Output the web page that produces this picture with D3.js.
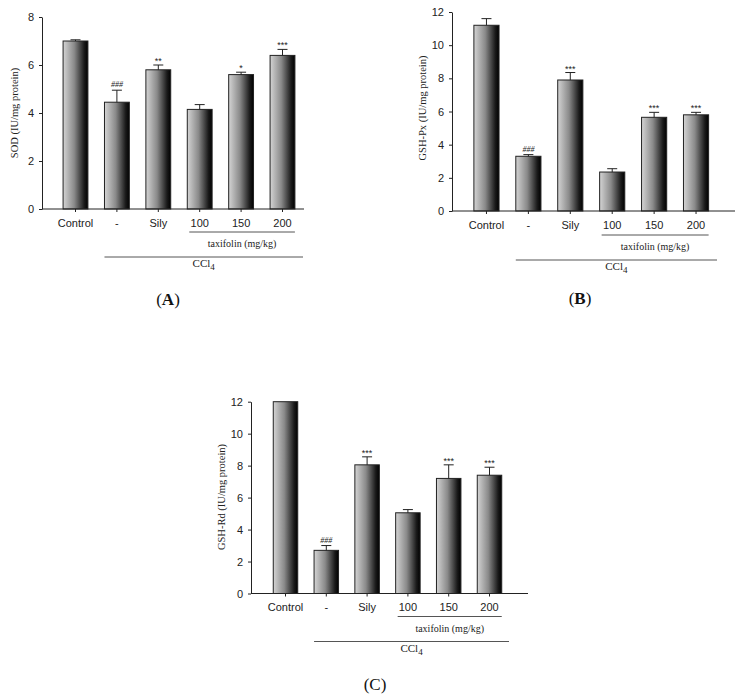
<!DOCTYPE html>
<html>
<head>
<meta charset="utf-8">
<script src="https://cdnjs.cloudflare.com/ajax/libs/d3/7.8.5/d3.min.js"></script>
<style>
  body { margin: 0; background: #fff; }
  svg { display: block; }
</style>
</head>
<body>
<svg id="chart" width="741" height="700"></svg>
<script>
// categories shared by all three panels
const groups = ["Control", "-", "Sily", "100", "150", "200"];

// Panel A: SOD
const sodMean = [7.0, 4.45, 5.8, 4.15, 5.6, 6.4];
const sodErr  = [0.05, 0.5, 0.2, 0.2, 0.1, 0.25];
const sodSig  = ["", "###", "**", "", "*", "***"];

// Panel B: GSH-Px
const pxMean = [11.2, 3.3, 7.9, 2.35, 5.65, 5.8];
const pxErr  = [0.4, 0.1, 0.45, 0.2, 0.3, 0.15];
const pxSig  = ["", "###", "***", "", "***", "***"];

// Panel C: GSH-Rd
const rdMean = [12.0, 2.7, 8.05, 5.05, 7.2, 7.4];
const rdErr  = [0.0, 0.3, 0.5, 0.2, 0.85, 0.5];
const rdSig  = ["", "###", "***", "", "***", "***"];

const tickA = [0, 2, 4, 6, 8];
const tickBC = [0, 2, 4, 6, 8, 10, 12];

const svg = d3.select("#chart");

// horizontal gradient used for every bar
const defs = svg.append("defs");
const grad = defs.append("linearGradient")
    .attr("id", "barGrad")
    .attr("x1", "0%").attr("x2", "100%")
    .attr("y1", "0%").attr("y2", "0%");
grad.append("stop").attr("offset", "0%").attr("stop-color", "#d4d4d4");
grad.append("stop").attr("offset", "45%").attr("stop-color", "#8a8a8a");
grad.append("stop").attr("offset", "85%").attr("stop-color", "#1a1a1a");
grad.append("stop").attr("offset", "100%").attr("stop-color", "#000");

function drawPanel(p) {
    const g = svg.append("g");

    const x = d3.scaleBand()
        .domain(groups)
        .range([p.bandLeft, p.bandRight])
        .paddingInner(0.4)
        .paddingOuter(0.2);

    const y = d3.scaleLinear()
        .domain([0, p.yMax])
        .range([p.bottom, p.top]);

    // bars
    g.selectAll(".bar")
        .data(p.mean)
        .enter()
        .append("rect")
        .attr("class", "bar")
        .attr("x", (d, i) => x(groups[i]))
        .attr("y", d => y(d))
        .attr("width", x.bandwidth())
        .attr("height", d => y(0) - y(d))
        .attr("fill", "url(#barGrad)")
        .attr("stroke", "#222")
        .attr("stroke-width", 1);

    // error bars (upper only)
    const cx = i => x(groups[i]) + x.bandwidth() / 2;
    p.mean.forEach((m, i) => {
        const e = p.err[i];
        if (e <= 0) return;
        g.append("line")
            .attr("x1", cx(i)).attr("x2", cx(i))
            .attr("y1", y(m)).attr("y2", y(m + e))
            .attr("stroke", "#222").attr("stroke-width", 1);
        g.append("line")
            .attr("x1", cx(i) - 5).attr("x2", cx(i) + 5)
            .attr("y1", y(m + e)).attr("y2", y(m + e))
            .attr("stroke", "#222").attr("stroke-width", 1);
    });

    // significance marks
    g.selectAll(".sig")
        .data(p.sig)
        .enter()
        .append("text")
        .attr("class", "sig")
        .attr("x", (d, i) => cx(i))
        .attr("y", (d, i) => d.startsWith("#") ? y(p.mean[i] + p.err[i]) - 3 : y(p.mean[i] + p.err[i]) - 1)
        .attr("text-anchor", "middle")
        .attr("font-family", d => d.startsWith("#") ? "Liberation Serif, serif" : "Liberation Sans, Arial, sans-serif")
        .attr("font-style", d => d.startsWith("#") ? "italic" : "normal")
        .attr("font-size", d => d.startsWith("#") ? 8 : 9)
        .attr("fill", "#222")
        .text(d => d);

    // y axis
    const yAxis = g.append("g")
        .attr("transform", `translate(${p.axisX},0)`)
        .call(d3.axisLeft(y).tickValues(p.ticks).tickSize(3).tickPadding(5).tickSizeOuter(0));
    yAxis.select(".domain").attr("stroke", "#222");
    yAxis.selectAll("line").attr("stroke", "#222");
    yAxis.selectAll("text")
        .attr("font-family", "Liberation Sans, Arial, sans-serif")
        .attr("font-size", 11)
        .attr("fill", "#222");

    // x axis
    const xAxis = g.append("g")
        .attr("transform", `translate(0,${p.bottom})`)
        .call(d3.axisBottom(x).tickSize(3).tickPadding(7).tickSizeOuter(0));
    xAxis.select(".domain").remove();
    xAxis.selectAll("line").attr("stroke", "#222");
    xAxis.selectAll("text")
        .attr("font-family", "Liberation Sans, Arial, sans-serif")
        .attr("font-size", 11)
        .attr("fill", "#222");
    g.append("line")
        .attr("x1", p.axisX).attr("x2", p.axisRight)
        .attr("y1", p.bottom).attr("y2", p.bottom)
        .attr("stroke", "#222").attr("stroke-width", 1);

    // y label
    g.append("text")
        .attr("transform", `translate(${p.labelX},${p.labelY}) rotate(-90)`)
        .attr("text-anchor", "middle")
        .attr("font-family", "Liberation Serif, 'Times New Roman', serif")
        .attr("font-size", 10.5)
        .attr("fill", "#222")
        .text(p.yLabel);

    // taxifolin bracket
    const tLeft = x("100") + 2, tRight = x("200") + x.bandwidth();
    g.append("line")
        .attr("x1", tLeft).attr("x2", tRight)
        .attr("y1", p.bottom + p.taxLineDy).attr("y2", p.bottom + p.taxLineDy)
        .attr("stroke", "#555").attr("stroke-width", 1);
    g.append("text")
        .attr("x", (tLeft + tRight) / 2)
        .attr("y", p.bottom + p.taxLineDy + 15)
        .attr("text-anchor", "middle")
        .attr("font-family", "Liberation Serif, 'Times New Roman', serif")
        .attr("font-size", 10)
        .attr("fill", "#222")
        .text("taxifolin (mg/kg)");

    // CCl4 bracket
    const cLeft = x("-"), cRight = p.cclRight;
    const cY = p.bottom + p.taxLineDy + 25;
    g.append("line")
        .attr("x1", cLeft).attr("x2", cRight)
        .attr("y1", cY).attr("y2", cY)
        .attr("stroke", "#555").attr("stroke-width", 1);
    const ccl = g.append("text")
        .attr("x", (cLeft + cRight) / 2)
        .attr("y", cY + 10)
        .attr("text-anchor", "middle")
        .attr("font-family", "Liberation Serif, 'Times New Roman', serif")
        .attr("font-size", 11)
        .attr("fill", "#222");
    ccl.append("tspan").text("CCl");
    ccl.append("tspan").attr("font-size", 9).attr("dy", 3).text("4");

    // panel letter
    const lab = g.append("text")
        .attr("x", p.letterX)
        .attr("y", p.letterY)
        .attr("text-anchor", "middle")
        .attr("font-family", "Liberation Serif, 'Times New Roman', serif")
        .attr("font-size", 17)
        .attr("fill", "#111");
    lab.append("tspan").text("(");
    lab.append("tspan").attr("font-weight", p.letterBold ? "bold" : "normal").text(p.letter);
    lab.append("tspan").text(")");
}

drawPanel({
    mean: sodMean, err: sodErr, sig: sodSig, yMax: 8, ticks: tickA,
    axisX: 42, axisRight: 304, bandLeft: 54.8, bandRight: 303.2,
    top: 17, bottom: 209, yLabel: "SOD (IU/mg protein)", labelX: 18, labelY: 113,
    taxLineDy: 23, cclRight: 303, letter: "A", letterBold: true, letterX: 168, letterY: 305
});

drawPanel({
    mean: pxMean, err: pxErr, sig: pxSig, yMax: 12, ticks: tickBC,
    axisX: 452, axisRight: 735, bandLeft: 465.5, bandRight: 717,
    top: 12, bottom: 211, yLabel: "GSH-Px (IU/mg protein)", labelX: 426, labelY: 108,
    taxLineDy: 24, cclRight: 717, letter: "B", letterBold: true, letterX: 580, letterY: 304
});

drawPanel({
    mean: rdMean, err: rdErr, sig: rdSig, yMax: 12, ticks: tickBC,
    axisX: 251, axisRight: 528, bandLeft: 265.1, bandRight: 509.9,
    top: 401.7, bottom: 593.5, yLabel: "GSH-Rd (IU/mg protein)", labelX: 225, labelY: 497,
    taxLineDy: 23, cclRight: 509, letter: "C", letterBold: false, letterX: 375, letterY: 690
});
</script>
</body>
</html>
